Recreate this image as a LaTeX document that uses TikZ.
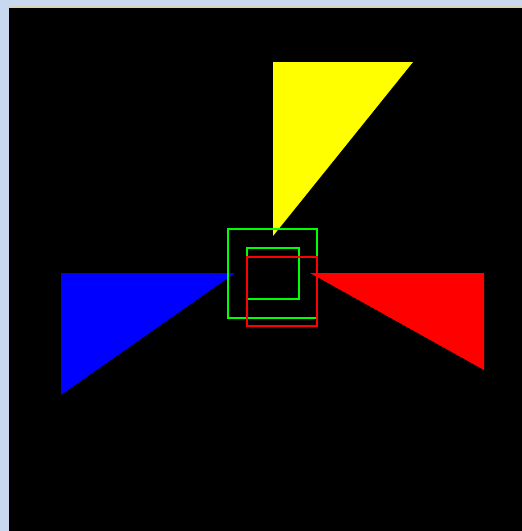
\documentclass[tikz,border=0pt]{standalone}
\definecolor{bgblue}{HTML}{C8D8EE}
\definecolor{beige}{HTML}{D8D2BC}
\definecolor{lgreen}{HTML}{00FF00}
\definecolor{pyellow}{HTML}{FFFF00}
\definecolor{pblue}{HTML}{0000FF}
\definecolor{pred}{HTML}{FF0000}
\begin{document}
\begin{tikzpicture}[x=1pt,y=-1pt,
  outline/.style={line width=2pt}]
\useasboundingbox (0,0) rectangle (522,531);
\fill[bgblue] (0,0) rectangle (522,531);
\fill[beige] (9,6) rectangle (522,8);
\fill[black] (9,8) rectangle (522,531);
% triangles
\fill[pyellow] (273,62) -- (413,62) -- (273,236) -- cycle;
\fill[pblue] (61,273) -- (235,273) -- (61,395) -- cycle;
\fill[pred] (310,273) -- (484,273) -- (484,370) -- cycle;
% squares
\draw[outline,lgreen] (228,229) rectangle (317,318);
\draw[outline,lgreen] (246.5,247.5) rectangle (298.5,299);
\draw[outline,pred] (246.5,256.5) rectangle (317,326);
\end{tikzpicture}
\end{document}
